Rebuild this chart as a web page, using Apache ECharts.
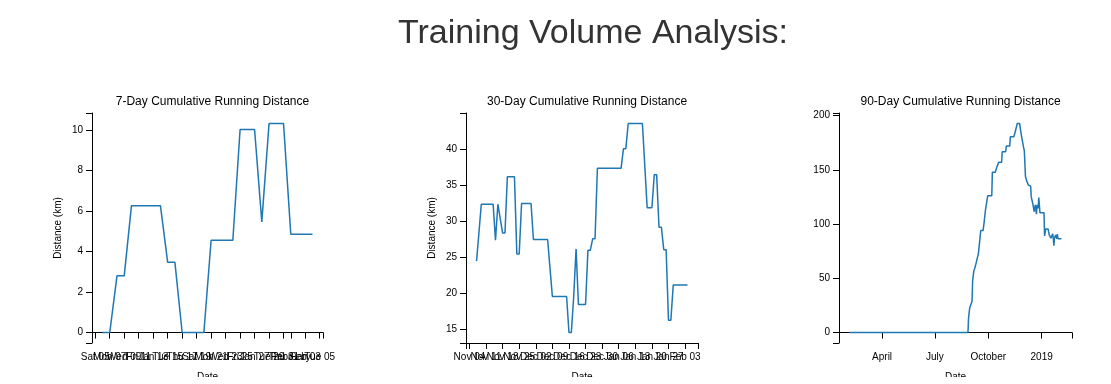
<!DOCTYPE html>
<html>
<head>
<meta charset="utf-8">
<script src="https://cdn.jsdelivr.net/npm/echarts@6/dist/echarts.min.js"></script>
<style>
  html, body { margin: 0; padding: 0; background: #fff; }
  #chart { width: 1111px; height: 377px; }
</style>
</head>
<body>
<div id="chart"></div>
<script>
// ---------------- DATA ----------------
const mainTitle = 'Training Volume Analysis:';
const panelTitles = ['7-Day Cumulative Running Distance', '30-Day Cumulative Running Distance', '90-Day Cumulative Running Distance'];
const yAxisName = 'Distance (km)';
const xAxisName = 'Date';

// 7-day rolling distance, one value per day starting on this date
const sevenDayStart = '2019-01-06';
const sevenDayValues = [0, 0, 2.8, 2.8, 6.27, 6.27, 6.27, 6.27, 6.27, 3.47, 3.47, 0, 0, 0, 0,
  4.56, 4.56, 4.56, 4.56, 10.03, 10.03, 10.03, 5.47, 10.33, 10.33, 10.33, 4.86, 4.86, 4.86, 4.86];
const sevenDayTickDates = ['2019-01-05', '2019-01-07', '2019-01-09', '2019-01-11', '2019-01-13', '2019-01-15',
  '2019-01-17', '2019-01-19', '2019-01-21', '2019-01-23', '2019-01-25', '2019-01-27', '2019-01-29',
  '2019-01-31', '2019-02-01', '2019-02-03', '2019-02-05'];
const sevenDayTickLabels = ['Sat 05', 'Mon 07', 'Wed 09', 'Fri 11', 'Jan 13', 'Tue 15', 'Thu 17', 'Sat 19',
  'Mon 21', 'Wed 23', 'Fri 25', 'Jan 27', 'Tue 29', 'Thu 31', 'February', 'Feb 03', 'Tue 05'];
const sevenDayYTicks = [0, 2, 4, 6, 8, 10];

// 30-day rolling distance, one value per day starting on this date
const thirtyDayStart = '2018-11-07';
const thirtyDayValues = [24.5, 28.4, 32.4, 32.4, 32.4, 32.4, 32.4, 32.4, 27.4, 32.4, 30.4, 28.4, 28.4,
  36.2, 36.2, 36.2, 36.2, 25.5, 25.5, 32.5, 32.5, 32.5, 32.5, 32.5,
  27.5, 27.5, 27.5, 27.5, 27.5, 27.5, 27.5, 23.5, 19.6, 19.6, 19.6, 19.6, 19.6, 19.6, 19.6,
  14.6, 14.6, 19.6, 26.2, 18.5, 18.5, 18.5, 18.5, 26.0, 26.0, 27.6, 27.6,
  37.4, 37.4, 37.4, 37.4, 37.4, 37.4, 37.4, 37.4, 37.4, 37.4, 37.4, 40.1, 40.1,
  43.6, 43.6, 43.6, 43.6, 43.6, 43.6, 43.6, 37.7, 31.9, 31.9, 31.9, 36.5, 36.5, 29.2, 29.2,
  26.1, 26.1, 16.3, 16.3, 21.2, 21.2, 21.2, 21.2, 21.2, 21.2, 21.2];
const thirtyDayTickDates = ['2018-11-04', '2018-11-11', '2018-11-18', '2018-11-25', '2018-12-02', '2018-12-09',
  '2018-12-16', '2018-12-23', '2018-12-30', '2019-01-06', '2019-01-13', '2019-01-20', '2019-01-27', '2019-02-03'];
const thirtyDayTickLabels = ['Nov 04', 'Nov 11', 'Nov 18', 'Nov 25', 'Dec 02', 'Dec 09', 'Dec 16', 'Dec 23',
  'Dec 30', 'Jan 06', 'Jan 13', 'Jan 20', 'Jan 27', 'Feb 03'];
const thirtyDayYTicks = [15, 20, 25, 30, 35, 40];

// 90-day rolling distance, read at the corners of the line
const ninetyDayDates = ['2018-02-04', '2018-08-27', '2018-08-28', '2018-08-30', '2018-09-01', '2018-09-03',
  '2018-09-04', '2018-09-06', '2018-09-08', '2018-09-10', '2018-09-12', '2018-09-14', '2018-09-16', '2018-09-18',
  '2018-09-22', '2018-09-24', '2018-09-26', '2018-09-28', '2018-09-30', '2018-10-07', '2018-10-08', '2018-10-13',
  '2018-10-16', '2018-10-19', '2018-10-24', '2018-10-25', '2018-10-31', '2018-11-01', '2018-11-07', '2018-11-08',
  '2018-11-14', '2018-11-16', '2018-11-19', '2018-11-20', '2018-11-24', '2018-11-26', '2018-11-28', '2018-12-01',
  '2018-12-02', '2018-12-03', '2018-12-04', '2018-12-06', '2018-12-09', '2018-12-13', '2018-12-14', '2018-12-17',
  '2018-12-19', '2018-12-21', '2018-12-23', '2018-12-24', '2018-12-26', '2018-12-27', '2018-12-28', '2018-12-29',
  '2019-01-05', '2019-01-06', '2019-01-08', '2019-01-12', '2019-01-14', '2019-01-17', '2019-01-20', '2019-01-21',
  '2019-01-22', '2019-01-23', '2019-01-25', '2019-01-27', '2019-01-28', '2019-01-29', '2019-02-04'];
const ninetyDayValues = [0, 0, 13.5, 22.7, 22.7, 28.8, 47.5, 56.4, 60, 64, 64, 73, 73, 94,
  94, 102.3, 112.4, 112.4, 126, 126, 147.7, 147.7,
  152.9, 156.9, 156.9, 166.7, 166.7, 171.9, 171.9, 180.4,
  180.4, 184.1, 184.1, 192.7, 192.7, 185, 179, 170,
  168, 157, 144, 140, 136, 135, 125, 118,
  111.4, 117.7, 109, 117.7, 114.5, 124.4, 117.7, 110.5,
  110.5, 89, 95.5, 95.5, 90, 87, 91, 87,
  80, 87, 90, 86.5, 90.8, 86.5, 86.5];
const ninetyDayTickDates = ['2018-04-01', '2018-07-01', '2018-10-01', '2019-01-01'];
const ninetyDayTickLabels = ['April', 'July', 'October', '2019'];
const ninetyDayYTicks = [0, 50, 100, 150, 200];

// ---------------- BUILD ----------------
const DAY = 86400000;
function parseDate(s) { const p = s.split('-').map(Number); return Date.UTC(p[0], p[1] - 1, p[2]); }
function daily(start, values) { const t0 = parseDate(start); return values.map((v, i) => [t0 + i * DAY, v]); }
function paired(dates, values) { return dates.map((d, i) => [parseDate(d), values[i]]); }
function padded(arr) {
  const mn = Math.min.apply(null, arr), mx = Math.max.apply(null, arr);
  const p = (mx - mn) * 0.05;
  return [mn - p, mx + p];
}

const panels = [
  { data: daily(sevenDayStart, sevenDayValues), ticks: sevenDayTickDates, labels: sevenDayTickLabels, yTicks: sevenDayYTicks, yName: true },
  { data: daily(thirtyDayStart, thirtyDayValues), ticks: thirtyDayTickDates, labels: thirtyDayTickLabels, yTicks: thirtyDayYTicks, yName: true },
  { data: paired(ninetyDayDates, ninetyDayValues), ticks: ninetyDayTickDates, labels: ninetyDayTickLabels, yTicks: ninetyDayYTicks, yName: false }
];

const gridBoxes = [
  { left: 92, top: 113, width: 231, height: 230 },
  { left: 466, top: 113, width: 232, height: 230 },
  { left: 839, top: 113, width: 233, height: 230 }
];

const FONT = '"Liberation Sans", Arial, Helvetica, sans-serif';
const axisColor = '#000';
const LABEL_LAYERS = 4; // tick labels overlap as in the original; spread over layers so none get dropped

const grids = [], xAxes = [], yAxes = [], series = [], titles = [];

titles.push({
  text: mainTitle, left: 588, top: 12, textAlign: 'center',
  textStyle: { fontFamily: FONT, fontSize: 34, fontWeight: 'normal', color: '#333' }
});

panels.forEach((p, i) => {
  const g = gridBoxes[i];
  grids.push(Object.assign({ outerBoundsMode: 'none', containLabel: false }, g));
  titles.push({
    text: panelTitles[i], left: g.left + g.width / 2, top: 91, textAlign: 'center',
    textStyle: { fontFamily: FONT, fontSize: 12, fontWeight: 'normal', color: '#000' }
  });
  const xs = p.data.map(d => d[0]);
  const ys = p.data.map(d => d[1]);
  const xr = padded(xs), yr = padded(ys);
  const tickVals = p.ticks.map(parseDate);
  const labelMap = {};
  tickVals.forEach((t, k) => { labelMap[t] = p.labels[k]; });
  const fmt = v => (labelMap[v] !== undefined ? labelMap[v] : '');

  const mainIndex = xAxes.length;
  // main axis: line, ticks, name
  xAxes.push({
    type: 'value', gridIndex: i, min: xr[0], max: xr[1], position: 'bottom',
    name: xAxisName, nameLocation: 'middle', nameGap: 29,
    nameTextStyle: { fontFamily: FONT, fontSize: 10, color: '#000' },
    axisLine: { show: true, lineStyle: { color: axisColor, width: 1 } },
    axisTick: { show: true, length: 6, inside: false, customValues: [xr[0]].concat(tickVals, [xr[1]]), lineStyle: { color: axisColor } },
    axisLabel: { show: false },
    splitLine: { show: false }
  });
  // label layers
  for (let L = 0; L < LABEL_LAYERS; L++) {
    const sub = tickVals.filter((t, k) => k % LABEL_LAYERS === L);
    if (!sub.length) continue;
    xAxes.push({
      type: 'value', gridIndex: i, min: xr[0], max: xr[1], position: 'bottom', offset: 0,
      axisLine: { show: false }, axisTick: { show: false }, splitLine: { show: false },
      axisLabel: {
        show: true, margin: 9, customValues: sub, hideOverlap: false,
        showMinLabel: true, showMaxLabel: true,
        fontFamily: FONT, fontSize: 10, color: '#000', formatter: fmt
      }
    });
  }
  yAxes.push({
    type: 'value', gridIndex: i, min: yr[0], max: yr[1],
    name: p.yName ? yAxisName : '', nameLocation: 'middle', nameGap: 29, nameRotate: 90,
    nameTextStyle: { fontFamily: FONT, fontSize: 10, color: '#000' },
    axisLine: { show: true, lineStyle: { color: axisColor, width: 1 } },
    axisTick: { show: true, length: 6, inside: false, customValues: [yr[0]].concat(p.yTicks, [yr[1]]), lineStyle: { color: axisColor } },
    axisLabel: {
      show: true, margin: 9, customValues: p.yTicks, hideOverlap: false,
      showMinLabel: true, showMaxLabel: true,
      fontFamily: FONT, fontSize: 10, color: '#000',
      formatter: v => String(v)
    },
    splitLine: { show: false }
  });
  series.push({
    type: 'line', xAxisIndex: mainIndex, yAxisIndex: i, data: p.data,
    showSymbol: false, symbol: 'none', smooth: false,
    lineStyle: { color: '#1f77b4', width: 1.5 },
    clip: false, silent: true
  });
});

const chart = echarts.init(document.getElementById('chart'), null, { renderer: 'canvas' });
chart.setOption({
  animation: false,
  backgroundColor: '#fff',
  title: titles,
  grid: grids,
  xAxis: xAxes,
  yAxis: yAxes,
  series: series
});
</script>
</body>
</html>
